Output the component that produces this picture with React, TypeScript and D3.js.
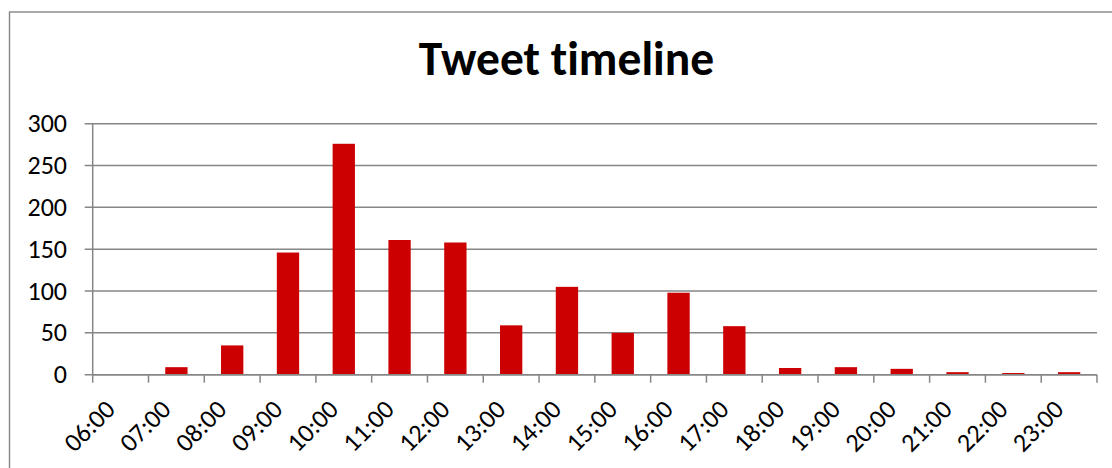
import React from "react";
import * as d3 from "d3";

const hours = [
  "06:00", "07:00", "08:00", "09:00", "10:00", "11:00", "12:00", "13:00", "14:00",
  "15:00", "16:00", "17:00", "18:00", "19:00", "20:00", "21:00", "22:00", "23:00",
];
const tweets = [0, 9, 35, 146, 276, 161, 158, 59, 105, 50, 98, 58, 8, 9, 7, 3, 2, 3];
const yTicks = [0, 50, 100, 150, 200, 250, 300];
const title = "Tweet timeline";

const W = 1112;
const H = 468;
const plot = { left: 92.7, right: 1097, top: 123.7, bottom: 374.7 };
const FONT = "Carlito, Lato, 'Open Sans', sans-serif";
const AXIS = "#868686";
const BAR = "#CC0000";
const noLig = { fontVariantLigatures: "none" as const, fontFeatureSettings: '"liga" 0' };

export default function App() {
  const x = d3
    .scaleBand<string>()
    .domain(hours)
    .range([plot.left, plot.right])
    .paddingInner(0.6)
    .paddingOuter(0.3);
  const step = x.step();
  const y = d3.scaleLinear().domain([0, 300]).range([plot.bottom, plot.top]);

  const boundaries = d3.range(hours.length + 1).map((i) => plot.left + i * step);

  return (
    <svg
      width={W}
      height={H}
      style={{ position: "absolute", left: 0, top: 0, background: "#fff" }}
    >
      <rect x={0} y={0} width={W} height={H} fill="#fff" />
      {/* chart frame */}
      <rect
        x={9.5}
        y={12}
        width={W + 20}
        height={H + 20}
        fill="none"
        stroke={AXIS}
        strokeWidth={1.4}
      />
      <text
        x={566.5}
        y={75}
        textAnchor="middle"
        fontFamily={FONT}
        fontWeight={700}
        fontSize={47.5}
        fill="#000"
        style={noLig}
      >
        {title}
      </text>

      {/* gridlines and value axis */}
      {yTicks.map((t) => (
        <g key={t}>
          <line
            x1={plot.left - 8}
            x2={plot.right}
            y1={y(t)}
            y2={y(t)}
            stroke={AXIS}
            strokeWidth={1.5}
          />
          <text
            x={67}
            y={y(t)}
            dy="0.33em"
            textAnchor="end"
            fontFamily={FONT}
            fontSize={26}
            fill="#000"
          >
            {t}
          </text>
        </g>
      ))}
      <line
        x1={plot.left}
        x2={plot.left}
        y1={plot.top}
        y2={plot.bottom}
        stroke={AXIS}
        strokeWidth={1.5}
      />

      {/* bars */}
      {hours.map((h, i) => (
        <rect
          key={h}
          x={x(h)}
          y={y(tweets[i])}
          width={x.bandwidth()}
          height={plot.bottom - y(tweets[i])}
          fill={BAR}
        />
      ))}

      {/* category axis */}
      <line
        x1={plot.left}
        x2={plot.right}
        y1={plot.bottom}
        y2={plot.bottom}
        stroke={AXIS}
        strokeWidth={1.5}
      />
      {boundaries.map((bx, i) => (
        <line
          key={i}
          x1={bx}
          x2={bx}
          y1={plot.bottom}
          y2={plot.bottom + 8}
          stroke={AXIS}
          strokeWidth={1.5}
        />
      ))}
      {hours.map((h) => {
        const cx = (x(h) as number) + x.bandwidth() / 2;
        const px = cx - 4;
        const py = 411;
        return (
          <text
            key={h}
            x={px}
            y={py}
            textAnchor="end"
            transform={`rotate(-45 ${px} ${py})`}
            fontFamily={FONT}
            fontSize={26}
            fill="#000"
          >
            {h}
          </text>
        );
      })}
    </svg>
  );
}
